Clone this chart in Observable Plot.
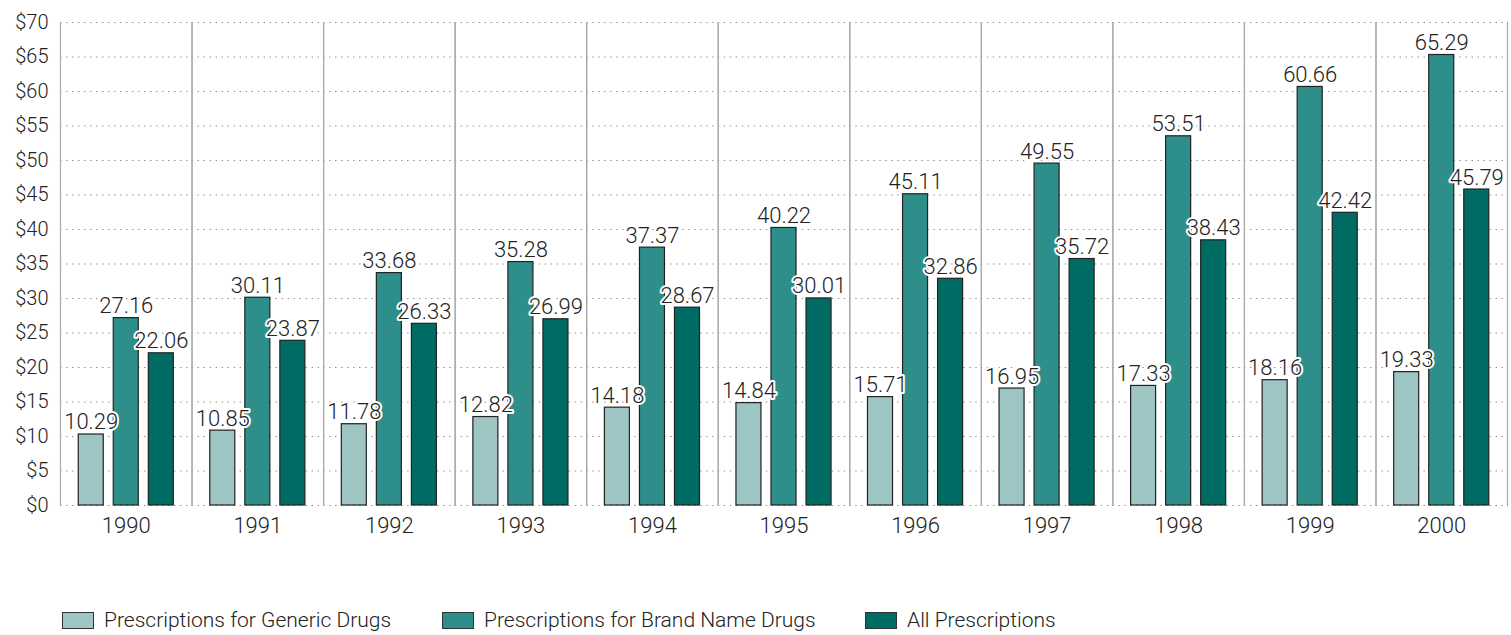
<!DOCTYPE html>
<html>
<head>
<meta charset="utf-8">
<script src="https://cdn.jsdelivr.net/npm/d3@7"></script>
<script src="https://cdn.jsdelivr.net/npm/@observablehq/plot@0.6"></script>
<style>
  html, body { margin: 0; padding: 0; background: #fff; }
  body { font-family: Roboto, "Liberation Sans", sans-serif; color: #333; }
  #wrap { position: relative; width: 1511px; height: 635px; }
  .leg { position: absolute; top: 608px; display: flex; align-items: center; font-size: 21px; font-weight: 300; color: #222; white-space: nowrap; }
  .sw { width: 30px; height: 15px; border: 1.5px solid #333; margin-right: 10px; }
  svg text { font-weight: 300; }
</style>
</head>
<body>
<div id="wrap"><div id="chart"></div></div>
<script>
const years = [1990, 1991, 1992, 1993, 1994, 1995, 1996, 1997, 1998, 1999, 2000];
const generic = [10.29, 10.85, 11.78, 12.82, 14.18, 14.84, 15.71, 16.95, 17.33, 18.16, 19.33];
const brand = [27.16, 30.11, 33.68, 35.28, 37.37, 40.22, 45.11, 49.55, 53.51, 60.66, 65.29];
const allRx = [22.06, 23.87, 26.33, 26.99, 28.67, 30.01, 32.86, 35.72, 38.43, 42.42, 45.79];
const seriesNames = ["Prescriptions for Generic Drugs", "Prescriptions for Brand Name Drugs", "All Prescriptions"];
const seriesColors = ["#9cc5c3", "#2e8f8a", "#006b63"];
const yTicks = [0, 5, 10, 15, 20, 25, 30, 35, 40, 45, 50, 55, 60, 65, 70];
const legendLeft = [62, 442, 865];

const valuesBySeries = [generic, brand, allRx];
const data = [];
years.forEach((yr, i) => {
  seriesNames.forEach((s, j) => data.push({year: yr, series: s, value: valuesBySeries[j][i]}));
});

const font = 'Roboto, "Liberation Sans", sans-serif';

const chart = Plot.plot({
  width: 1511,
  height: 560,
  marginTop: 22,
  marginLeft: 60,
  marginRight: 4,
  marginBottom: 55,
  style: {fontFamily: font, color: "#222", background: "white"},
  fx: {domain: years, padding: 0, round: false, label: null},
  x: {domain: seriesNames, paddingInner: 0.286, paddingOuter: 0.52, round: false, axis: null},
  y: {domain: [0, 70], label: null},
  color: {domain: seriesNames, range: seriesColors},
  marks: [
    Plot.gridY(yTicks, {stroke: "#888", strokeOpacity: 0.9, strokeDasharray: "1.5,4.5"}),
    Plot.frame({anchor: "left", stroke: "#aaa", strokeWidth: 1.2}),
    Plot.frame({anchor: "right", stroke: "#aaa", strokeWidth: 1.2}),
    Plot.barY(data, {fx: "year", x: "series", y: "value", fill: "series", stroke: "#222", strokeWidth: 1.2}),
    Plot.text(data, {fx: "year", x: "series", y: "value", text: d => d.value.toFixed(2),
      lineAnchor: "bottom", dy: -5, fontSize: 22, fill: "#222", stroke: "white", strokeWidth: 4}),
    Plot.axisY({ticks: yTicks, tickSize: 0, tickPadding: 12, tickFormat: d => "$" + d, fontSize: 20, label: null}),
    Plot.axisFx({anchor: "bottom", tickSize: 0, tickPadding: 12, fontSize: 22, label: null, tickFormat: d => String(d)})
  ]
});
document.getElementById("chart").appendChild(chart);

const wrap = document.getElementById("wrap");
seriesNames.forEach((s, j) => {
  const item = document.createElement("div");
  item.className = "leg";
  item.style.left = legendLeft[j] + "px";
  const sw = document.createElement("div");
  sw.className = "sw";
  sw.style.background = seriesColors[j];
  const lab = document.createElement("span");
  lab.textContent = s;
  item.appendChild(sw);
  item.appendChild(lab);
  wrap.appendChild(item);
});
</script>
</body>
</html>
